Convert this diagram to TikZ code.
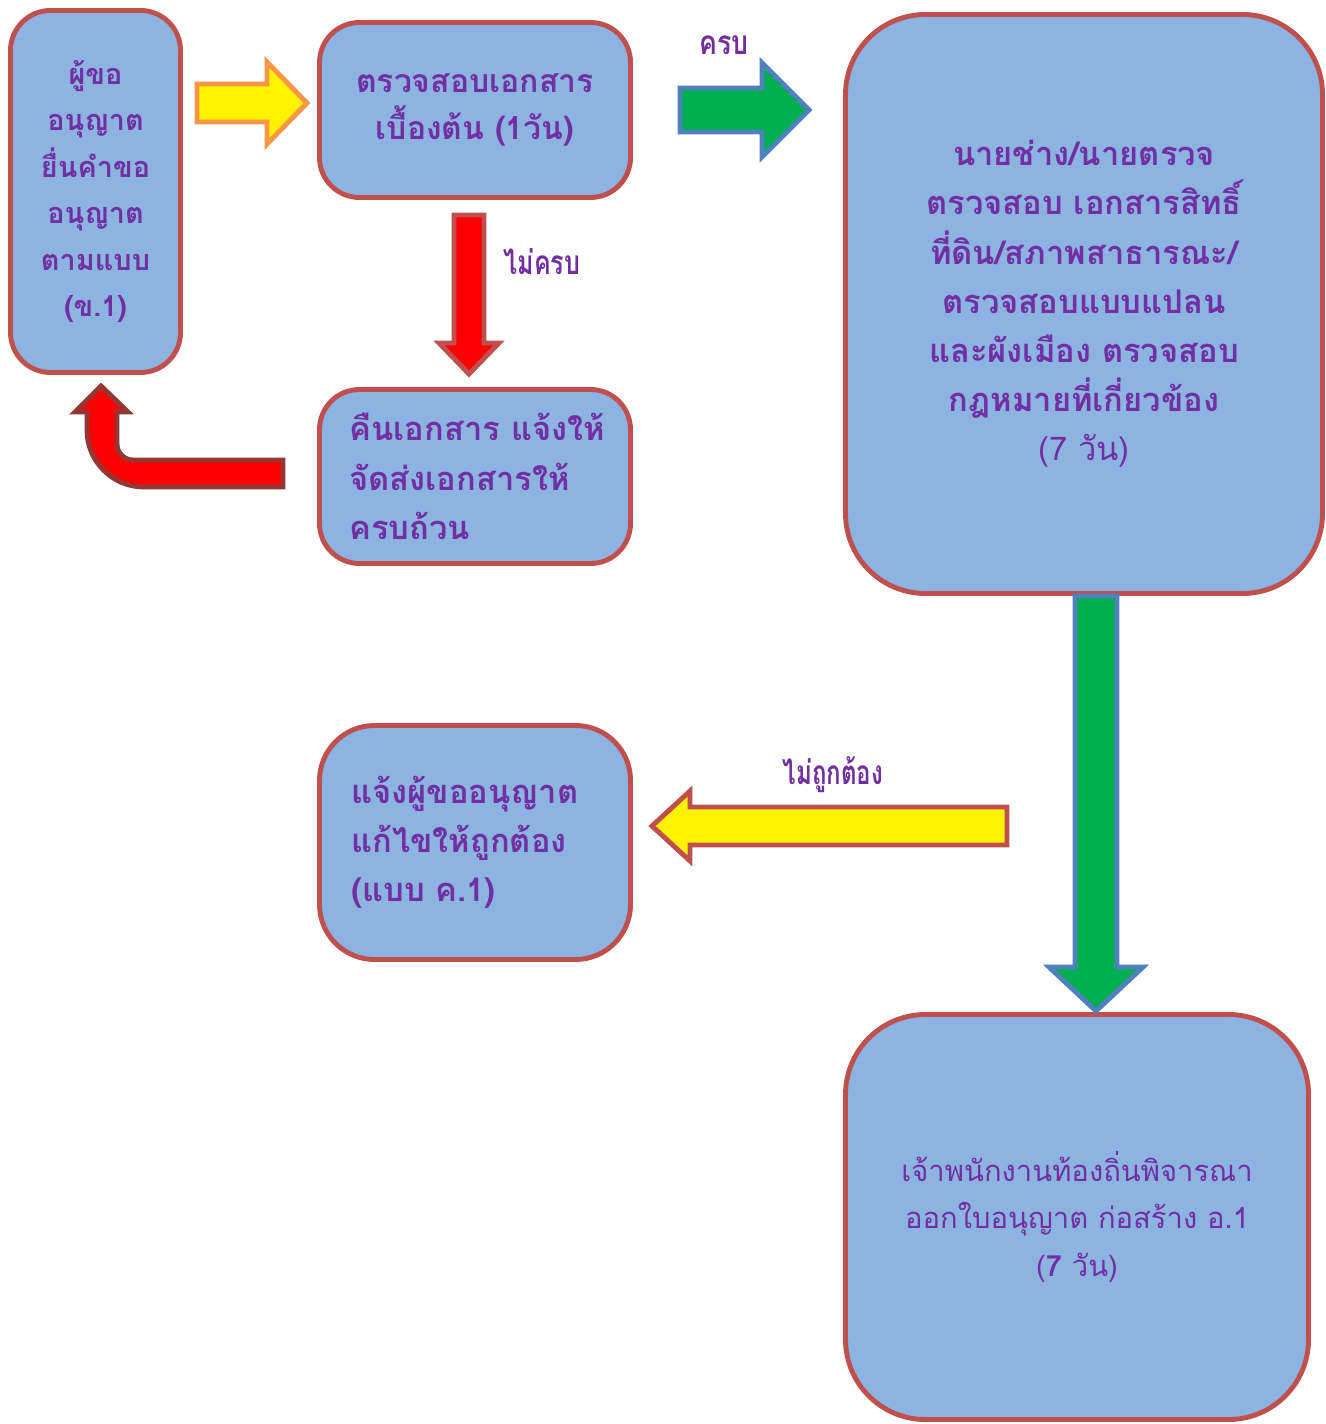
\documentclass[tikz,border=0pt]{standalone}
\usepackage{fontspec}
\newfontfamily\thaifont[Script=Thai]{Loma}
\usetikzlibrary{calc}
\definecolor{boxblue}{HTML}{8DB3E2}
\definecolor{boxred}{HTML}{C0504D}
\definecolor{txtpurple}{HTML}{7030A0}
\definecolor{arrorange}{HTML}{F79646}
\definecolor{arrgreen}{HTML}{00B050}
\definecolor{arrblue}{HTML}{4F81BD}
\definecolor{arrdark}{HTML}{943634}
\tikzset{
    flowbox/.style={draw=boxred, line width=1.4pt, fill=boxblue, text=txtpurple,
    	inner sep=0pt, rounded corners=0.4cm,
    	font=\thaifont\bfseries\fontsize{9.3}{14}\selectfont}
}
\tikzset{
    flowlabel/.style={text=txtpurple, inner sep=0pt,
    	font=\thaifont\bfseries\fontsize{9.5}{11}\selectfont}
}
\tikzset{
    yellowarrow/.style={fill=yellow, draw=arrorange, line width=1.4pt},
    greenarrow/.style={fill=arrgreen, draw=arrblue, line width=1.4pt},
    redarrow/.style={fill=red, draw=boxred, line width=1.4pt},
    backarrow/.style={fill=yellow, draw=boxred, line width=1.4pt},
    turnarrow/.style={fill=red, draw=arrdark, line width=1.4pt}
}
% block arrow: [style]{from}{to}{half shaft}{half head}{head length}
\newcommand{\blockarrow}[6][]{%
	\coordinate (ba-h) at ($(#3)!#6!(#2)$);
	\draw[#1] ($(#2)!#4!90:(#3)$) -- ($(ba-h)!#4!90:(#3)$) -- ($(ba-h)!#5!90:(#3)$)
		-- (#3) -- ($(ba-h)!#5!-90:(#3)$) -- ($(ba-h)!#4!-90:(#3)$)
		-- ($(#2)!#4!-90:(#3)$) -- cycle;}

\begin{document}
\begin{tikzpicture}
	\useasboundingbox (0,0) rectangle (13.26,-14.24);

	\node (applicant) [flowbox, minimum width=1.70cm, minimum height=3.62cm, align=center,
		font=\thaifont\bfseries\fontsize{8.2}{13.2}\selectfont] at (0.955, -1.915)
		{ผู้ขอ\\อนุญาต\\ยื่นคำขอ\\อนุญาต\\ตามแบบ\\(ข.1)};
	\node (precheck) [flowbox, minimum width=3.11cm, minimum height=1.75cm, align=center,
		font=\thaifont\bfseries\fontsize{9.1}{13.6}\selectfont] at (4.75, -1.10)
		{ตรวจสอบเอกสาร\\เบื้องต้น (1วัน)};
	\node (returndoc) [flowbox, minimum height=1.74cm, inner xsep=0.30cm, text width=2.51cm,
		align=left] at (4.75, -4.765)
		{คืนเอกสาร~แจ้งให้\\จัดส่งเอกสารให้\\ครบถ้วน};
	\node (inspect) [flowbox, rounded corners=0.8cm, minimum width=4.77cm, minimum height=5.79cm,
		align=center] at (10.84, -3.04)
		{นายช่าง/นายตรวจ\\ตรวจสอบ เอกสารสิทธิ์\\ที่ดิน/สภาพสาธารณะ/\\ตรวจสอบแบบแปลน\\และผังเมือง ตรวจสอบ\\กฎหมายที่เกี่ยวข้อง\\\mdseries(7 วัน)};
	\node (correct) [flowbox, rounded corners=0.55cm, minimum height=2.34cm, inner xsep=0.32cm,
		text width=2.47cm, align=left] at (4.75, -8.425)
		{แจ้งผู้ขออนุญาต\\แก้ไขให้ถูกต้อง\\(แบบ ค.1)};
	\node (issue) [flowbox, rounded corners=0.8cm, minimum width=4.63cm, minimum height=4.05cm,
		align=center, font=\thaifont\fontsize{8.3}{13.6}\selectfont] at (10.77, -12.17)
		{เจ้าพนักงานท้องถิ่นพิจารณา\\ออกใบอนุญาต ก่อสร้าง อ.1\\(\textbf{7} วัน)};

	\coordinate (ya) at (1.97, -1.03);
	\coordinate (yb) at (3.07, -1.03);
	\coordinate (ga) at (6.80, -1.10);
	\coordinate (gb) at (8.09, -1.10);
	\coordinate (ra) at (4.69, -2.15);
	\coordinate (rb) at (4.69, -3.74);
	\coordinate (da) at (10.96, -5.96);
	\coordinate (db) at (10.96, -10.11);
	\coordinate (la) at (10.07, -8.26);
	\coordinate (lb) at (6.52, -8.26);

	\blockarrow[yellowarrow]{ya}{yb}{0.19cm}{0.41cm}{0.40cm}
	\blockarrow[greenarrow]{ga}{gb}{0.22cm}{0.47cm}{0.47cm}
	\blockarrow[redarrow]{ra}{rb}{0.15cm}{0.30cm}{0.31cm}
	\blockarrow[greenarrow]{da}{db}{0.21cm}{0.47cm}{0.44cm}
	\blockarrow[backarrow]{la}{lb}{0.19cm}{0.35cm}{0.38cm}

	\draw[turnarrow] (2.83, -4.60) -- (1.33, -4.60) arc (270:180:0.16) -- (1.17, -4.12)
		-- (1.28, -4.12) -- (1.01, -3.86) -- (0.75, -4.12) -- (0.87, -4.12) -- (0.87, -4.30)
		arc (180:270:0.57) -- (2.83, -4.87) -- cycle;

	\node (full) [flowlabel] at (7.24, -0.45) {\scalebox{0.8}[1]{ครบ}};
	\node (notfull) [flowlabel] at (5.42, -2.62) {\scalebox{0.75}[1]{ไม่ครบ}};
	\node (wrong) [flowlabel] at (8.33, -7.75) {\scalebox{0.72}[1]{ไม่ถูกต้อง}};
\end{tikzpicture}
\end{document}
